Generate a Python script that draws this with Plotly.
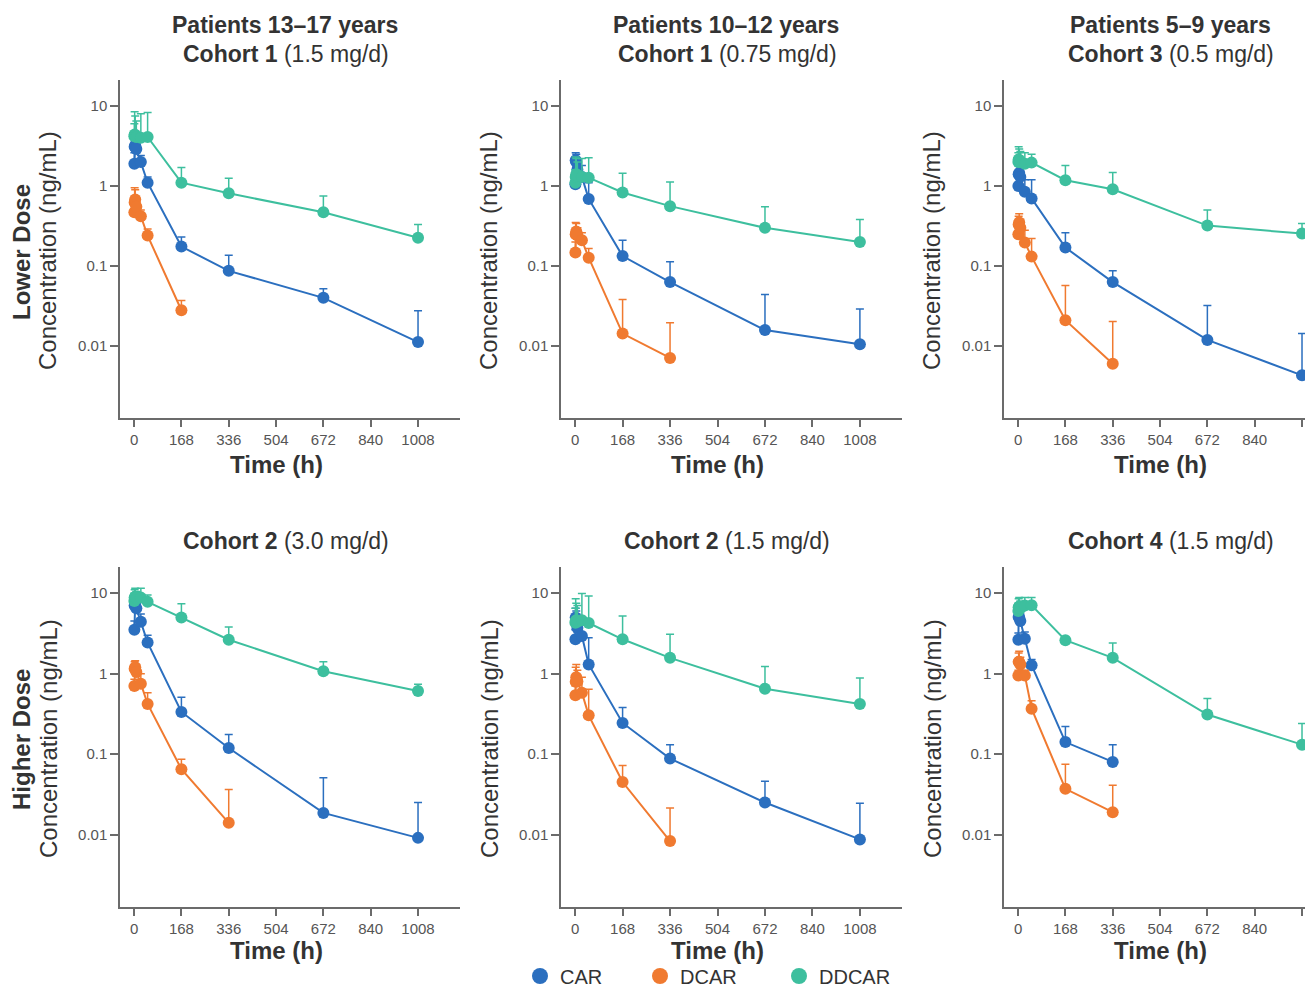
import plotly.graph_objects as go

# ---------------- data ----------------
times = [1, 2, 4, 8, 24, 48, 168, 336, 672, 1008]
x_ticks = [0, 168, 336, 504, 672, 840, 1008]
y_ticks = [0.01, 0.1, 1, 10]
y_tick_labels = ["0.01", "0.1", "1", "10"]
analytes = ["CAR", "DCAR", "DDCAR"]

row_labels = ["Lower Dose", "Higher Dose"]
age_titles = ["Patients 13–17 years", "Patients 10–12 years", "Patients 5–9 years"]
cohort_names = ["Cohort 1", "Cohort 1", "Cohort 3", "Cohort 2", "Cohort 2", "Cohort 4"]
cohort_doses = ["(1.5 mg/d)", "(0.75 mg/d)", "(0.5 mg/d)", "(3.0 mg/d)", "(1.5 mg/d)", "(1.5 mg/d)"]

# mean concentrations (ng/mL) and mean+SD upper values, per panel
p1_car = [1.9, 3.1, 3.2, 2.9, 2.0, 1.1, 0.175, 0.087, 0.040, 0.0112]
p1_car_up = [2.6, 3.9, 4.2, 3.6, 2.4, 1.3, 0.23, 0.136, 0.052, 0.0275]
p1_dcar = [0.47, 0.62, 0.68, 0.55, 0.42, 0.24, 0.028]
p1_dcar_up = [0.62, 0.95, 0.9, 0.7, 0.5, 0.29, 0.037]
p1_ddcar = [4.2, 4.4, 4.3, 4.1, 4.0, 4.1, 1.1, 0.81, 0.47, 0.226]
p1_ddcar_up = [6.0, 8.5, 7.5, 6.5, 8.0, 8.3, 1.7, 1.25, 0.75, 0.33]

p2_car = [1.05, 2.1, 2.0, 1.6, 1.3, 0.69, 0.133, 0.063, 0.0158, 0.0105]
p2_car_up = [1.4, 2.6, 2.5, 2.1, 1.8, 1.1, 0.21, 0.113, 0.044, 0.029]
p2_dcar = [0.147, 0.25, 0.27, 0.24, 0.21, 0.127, 0.0143, 0.0071]
p2_dcar_up = [0.2, 0.35, 0.34, 0.3, 0.26, 0.165, 0.038, 0.0195]
p2_ddcar = [1.1, 1.3, 1.4, 1.35, 1.3, 1.27, 0.83, 0.56, 0.30, 0.20]
p2_ddcar_up = [1.6, 2.3, 2.2, 2.0, 2.2, 2.25, 1.44, 1.12, 0.55, 0.38]

p3_car = [1.0, 1.4, 1.45, 1.3, 0.85, 0.70, 0.17, 0.063, 0.0119, 0.0043]
p3_car_up = [1.3, 1.8, 1.9, 1.7, 1.2, 1.2, 0.26, 0.087, 0.032, 0.0143]
p3_dcar = [0.25, 0.33, 0.35, 0.3, 0.196, 0.131, 0.021, 0.006]
p3_dcar_up = [0.32, 0.42, 0.45, 0.38, 0.28, 0.22, 0.057, 0.0202]
p3_ddcar = [2.0, 2.15, 2.1, 2.0, 1.9, 1.96, 1.18, 0.91, 0.32, 0.254]
p3_ddcar_up = [2.6, 3.1, 2.9, 2.7, 2.6, 2.5, 1.8, 1.47, 0.5, 0.34]

p4_car = [3.5, 7.0, 7.4, 6.5, 4.4, 2.43, 0.334, 0.119, 0.0186, 0.0091]
p4_car_up = [4.5, 9.0, 9.5, 8.5, 5.5, 3.0, 0.51, 0.175, 0.051, 0.025]
p4_dcar = [0.70, 1.15, 1.2, 1.05, 0.75, 0.42, 0.065, 0.014]
p4_dcar_up = [0.85, 1.4, 1.45, 1.3, 1.0, 0.58, 0.086, 0.0364]
p4_ddcar = [8.0, 8.8, 9.0, 8.6, 8.8, 7.8, 4.97, 2.64, 1.07, 0.61]
p4_ddcar_up = [10.0, 11.0, 11.5, 10.5, 11.5, 9.5, 7.4, 3.8, 1.4, 0.74]

p5_car = [2.67, 4.97, 4.5, 3.7, 2.94, 1.3, 0.244, 0.088, 0.025, 0.0087]
p5_car_up = [3.5, 6.5, 6.0, 5.0, 4.0, 2.8, 0.38, 0.131, 0.046, 0.0245]
p5_dcar = [0.54, 0.79, 0.9, 0.8, 0.58, 0.303, 0.045, 0.0083]
p5_dcar_up = [0.7, 1.2, 1.3, 1.1, 0.9, 0.64, 0.072, 0.0214]
p5_ddcar = [4.3, 4.5, 4.6, 4.4, 4.6, 4.26, 2.67, 1.57, 0.65, 0.42]
p5_ddcar_up = [6.5, 8.5, 7.5, 7.0, 9.9, 9.2, 5.2, 3.08, 1.23, 0.88]

p6_car = [2.64, 5.06, 5.0, 4.5, 2.72, 1.27, 0.141, 0.080]
p6_car_up = [3.2, 6.0, 6.0, 5.5, 3.3, 1.5, 0.22, 0.131]
p6_dcar = [0.95, 1.4, 1.4, 1.3, 0.95, 0.367, 0.037, 0.019]
p6_dcar_up = [1.1, 1.8, 1.9, 1.6, 1.1, 0.46, 0.075, 0.041]
p6_ddcar = [6.0, 6.7, 6.8, 6.5, 7.0, 7.07, 2.6, 1.57, 0.31, 0.131]
p6_ddcar_up = [7.5, 8.5, 8.8, 8.0, 8.8, 8.8, 2.8, 2.4, 0.49, 0.24]

panels = [
    [(p1_car, p1_car_up), (p1_dcar, p1_dcar_up), (p1_ddcar, p1_ddcar_up)],
    [(p2_car, p2_car_up), (p2_dcar, p2_dcar_up), (p2_ddcar, p2_ddcar_up)],
    [(p3_car, p3_car_up), (p3_dcar, p3_dcar_up), (p3_ddcar, p3_ddcar_up)],
    [(p4_car, p4_car_up), (p4_dcar, p4_dcar_up), (p4_ddcar, p4_ddcar_up)],
    [(p5_car, p5_car_up), (p5_dcar, p5_dcar_up), (p5_ddcar, p5_ddcar_up)],
    [(p6_car, p6_car_up), (p6_dcar, p6_dcar_up), (p6_ddcar, p6_ddcar_up)],
]

# ---------------- style ----------------
# page has the browser's default 8px body margin; the figure is sized so the
# whole page is exactly the 1313x996 window (no scrolling, no rescaling)
OFF = 8
W, H = 1313 - OFF, 996 - 2 * OFF
colors = {"CAR": "#2b6fbf", "DCAR": "#f07a30", "DDCAR": "#3dbf9e"}
axis_col = "#6b6b6b"
tick_col = "#555555"
text_col = "#333333"
FONT = "Liberation Sans, Arial, sans-serif"

def fx(p):  # screen px -> paper fraction
    return (p - OFF) / W

def fy(p):
    return 1 - (p - OFF) / H

col_px = [(120, 460), (561, 902), (1004, 1313)]
row_px = [(80, 418), (567, 907)]
x_ranges = [[-50, 1157], [-50, 1157], [-50, 1047]]
y_range = [-2.9, 1.325]

fig = go.Figure()
layout = {}
for i in range(6):
    r, c = divmod(i, 3)
    suf = "" if i == 0 else str(i + 1)
    xa, ya = "xaxis" + suf, "yaxis" + suf
    xr, yr = "x" + suf, "y" + suf
    layout[xa] = dict(
        domain=[fx(col_px[c][0]), min(1.0, fx(col_px[c][1]))], anchor=yr,
        range=x_ranges[c], tickvals=x_ticks, ticks="outside", ticklen=7,
        tickwidth=1.5, tickcolor=axis_col, showline=True, linecolor=axis_col,
        linewidth=1.5, showgrid=False, zeroline=False,
        tickfont=dict(size=15, color=tick_col, family=FONT),
    )
    layout[ya] = dict(
        domain=[fy(row_px[r][1]), fy(row_px[r][0])], anchor=xr, type="log",
        range=y_range, tickvals=y_ticks, ticktext=y_tick_labels,
        ticks="outside", ticklen=8, tickwidth=1.5, tickcolor=axis_col,
        showline=True, linecolor=axis_col, linewidth=1.5, showgrid=False,
        zeroline=False, tickfont=dict(size=15, color=tick_col, family=FONT),
    )
    for name, (vals, ups) in zip(analytes, panels[i]):
        n = len(vals)
        fig.add_trace(go.Scatter(
            x=times[:n], y=vals, mode="lines+markers", name=name,
            xaxis=xr, yaxis=yr, showlegend=False,
            line=dict(color=colors[name], width=2),
            marker=dict(color=colors[name], size=12),
            error_y=dict(type="data", symmetric=False,
                         array=[u - v for u, v in zip(ups, vals)],
                         arrayminus=[0] * n, color=colors[name],
                         thickness=1.5, width=4),
            cliponaxis=False,
        ))

# legend-only entries (one legend per item for exact placement)
legend_names = ["legend", "legend2", "legend3"]
legend_x = [540, 660, 799]
for name, lg, lx in zip(analytes, legend_names, legend_x):
    fig.add_trace(go.Scatter(
        x=[None], y=[None], mode="markers", name=name, legend=lg,
        marker=dict(color=colors[name], size=16), showlegend=True,
    ))
    layout[lg] = dict(
        x=fx(lx - 20), y=fy(976), xanchor="left", yanchor="middle",
        orientation="h", bgcolor="rgba(0,0,0,0)", borderwidth=0,
        font=dict(size=20, color=text_col, family=FONT),
    )

ann = []
title_cx = [285, 726, 1170]
for c in range(3):
    ann.append(dict(text="<b>" + age_titles[c] + "</b>", x=fx(title_cx[c]), y=fy(25),
                    xref="paper", yref="paper", showarrow=False,
                    xanchor="center", yanchor="middle",
                    font=dict(size=23, color=text_col, family=FONT)))
for i in range(6):
    r, c = divmod(i, 3)
    ty = 54 if r == 0 else 541
    ann.append(dict(text="<b>" + cohort_names[i] + "</b> " + cohort_doses[i],
                    x=fx(title_cx[c] + 1), y=fy(ty), xref="paper", yref="paper",
                    showarrow=False, xanchor="center", yanchor="middle",
                    font=dict(size=23, color=text_col, family=FONT)))
    suf = "" if i == 0 else str(i + 1)
    ann.append(dict(text="<b>Time (h)</b>", x=504, xref="x" + suf,
                    y=fy(465 if r == 0 else 950), yref="paper", showarrow=False,
                    xanchor="center", yanchor="middle",
                    font=dict(size=24, color=text_col, family=FONT)))
    ylab_x = [48, 489, 932][c]
    ann.append(dict(text="Concentration (ng/mL)", x=fx(ylab_x),
                    y=fy(251 if r == 0 else 739), xref="paper", yref="paper",
                    showarrow=False, textangle=-90, xanchor="center",
                    yanchor="middle",
                    font=dict(size=24, color=text_col, family=FONT)))
for r in range(2):
    ann.append(dict(text="<b>" + row_labels[r] + "</b>", x=fx(21),
                    y=fy(252 if r == 0 else 740), xref="paper", yref="paper",
                    showarrow=False, textangle=-90, xanchor="center",
                    yanchor="middle",
                    font=dict(size=24, color=text_col, family=FONT)))

fig.update_layout(
    width=W, height=H,
    margin=dict(l=0, r=0, t=0, b=0, autoexpand=False),
    paper_bgcolor="white", plot_bgcolor="white",
    annotations=ann, **layout,
)
fig.write_html("out.html", config={"displayModeBar": False})
